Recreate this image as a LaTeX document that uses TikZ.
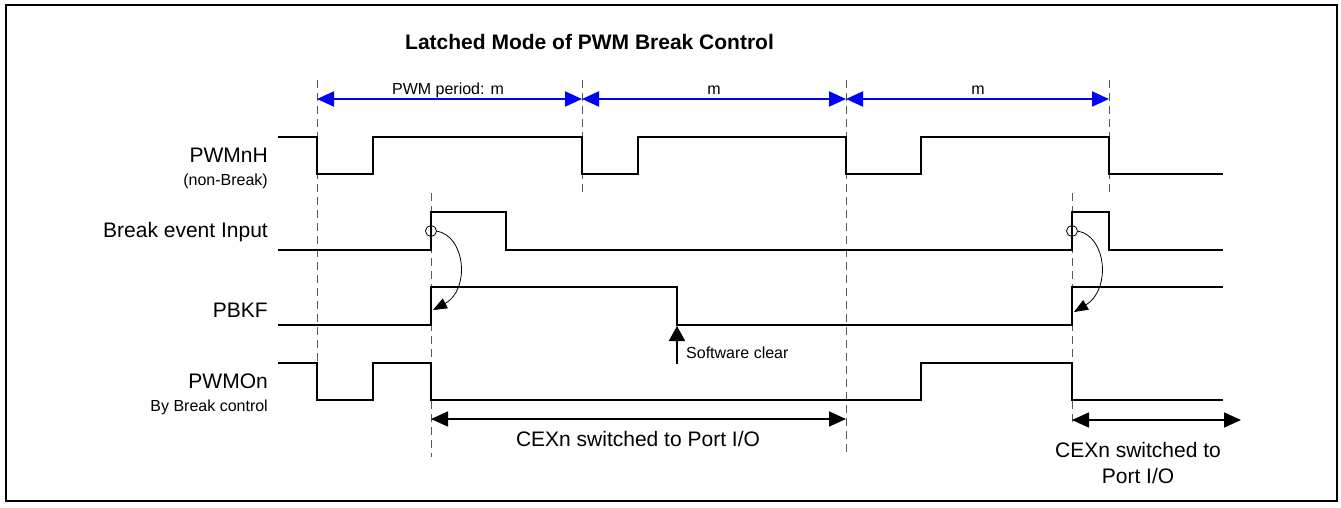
\documentclass[tikz,border=0pt]{standalone}
\usepackage{fontspec}
\setmainfont{Liberation Sans}
\usetikzlibrary{arrows.meta}
\begin{document}
\begin{tikzpicture}[x=1pt,y=-1pt,
  sig/.style={line width=2pt, line join=miter, line cap=butt},
  gridline/.style={black!65, line width=1pt, dash pattern=on 8pt off 5pt},
  period/.style={blue, line width=2pt, {Triangle[length=17pt,width=15pt]}-{Triangle[length=17pt,width=15pt]}},
  span/.style={black, line width=1.6pt, {Triangle[length=17pt,width=15pt]}-{Triangle[length=17pt,width=15pt]}},
  cause/.style={black, line width=0.8pt, -{Triangle[length=14pt,width=11pt]}},
  big/.style={font=\fontsize{21}{26}\selectfont, inner sep=0pt},
  small/.style={font=\fontsize{16}{19}\selectfont, inner sep=0pt},
  ttl/.style={font=\bfseries\fontsize{21}{26}\selectfont, inner sep=0pt}]
\useasboundingbox (0,0) rectangle (1341,508);
\draw[line width=2.5pt] (6,5) rectangle (1337,501);

% title
\node[ttl, anchor=base west] (title) at (405,50) {Latched Mode of PWM Break Control};

% signal labels
\node[big, anchor=base east] (lpwmh) at (268,162) {PWMnH};
\node[small, anchor=base east] (lpwmhs) at (268,185) {(non-Break)};
\node[big, anchor=base east] (lbrk) at (268,237) {Break event Input};
\node[big, anchor=base east] (lpbkf) at (268,317) {PBKF};
\node[big, anchor=base east] (lpwmo) at (268,388) {PWMOn};
\node[small, anchor=base east] (lpwmos) at (268,411) {By Break control};

% dashed reference lines
\draw[gridline] (317,80) -- (317,400);
\draw[gridline] (582,80) -- (582,193);
\draw[gridline] (846,80) -- (846,457);
\draw[gridline] (1109,80) -- (1109,193);
\draw[gridline] (431,193) -- (431,457);
\draw[gridline] (1072,193) -- (1072,423);

% period arrows
\coordinate (t1) at (317,99);
\coordinate (t2) at (582,99);
\coordinate (t3) at (846,99);
\coordinate (t4) at (1109,99);
\draw[period] (t1) -- (t2);
\draw[period] (t2) -- (t3);
\draw[period] (t3) -- (t4);
\node[small, anchor=base] (p1) at (448,95) {PWM period: m};
\node[small, anchor=base] (p2) at (714,95) {m};
\node[small, anchor=base] (p3) at (978,95) {m};

% waveforms
\draw[sig] (278,137) -| (317,174) -| (373,137) -| (582,174) -| (638,137) -| (846,174) -| (921,137) -| (1109,174) -- (1223,174);
\draw[sig] (278,250) -| (431,212) -| (506,250) -| (1072,212) -| (1109,250) -- (1223,250);
\draw[sig] (278,325) -| (431,287) -| (677,325) -| (1072,287) -- (1223,287);
\draw[sig] (278,363) -| (317,400) -| (373,363) -| (431,400) -| (921,363) -| (1072,400) -- (1223,400);

% break -> PBKF causal arrows
\draw[line width=0.8pt] (431,231) circle[radius=5.5pt];
\draw[cause] (436.5,231) .. controls (466,236) and (470,290) .. (433,310);
\draw[line width=0.8pt] (1072,231) circle[radius=5.5pt];
\draw[cause] (1077.5,231) .. controls (1107,236) and (1111,290) .. (1074,312);

% software clear
\coordinate (sw0) at (677,364);
\coordinate (sw1) at (677,326);
\draw[line width=2pt, -{Triangle[length=15pt,width=16pt]}] (sw0) -- (sw1);
\node[small, anchor=base west] (swc) at (686,358) {Software clear};

% CEXn spans
\coordinate (c1) at (431,419);
\coordinate (c2) at (846,419);
\draw[span] (c1) -- (c2);
\node[big, anchor=base] (cx1) at (638,446) {CEXn switched to Port I/O};
\coordinate (c3) at (1072,420);
\coordinate (c4) at (1241,420);
\draw[span] (c3) -- (c4);
\node[big, anchor=base, align=center] (cx2a) at (1138,457) {CEXn switched to};
\node[big, anchor=base] (cx2b) at (1138,483) {Port I/O};
\end{tikzpicture}
\end{document}
